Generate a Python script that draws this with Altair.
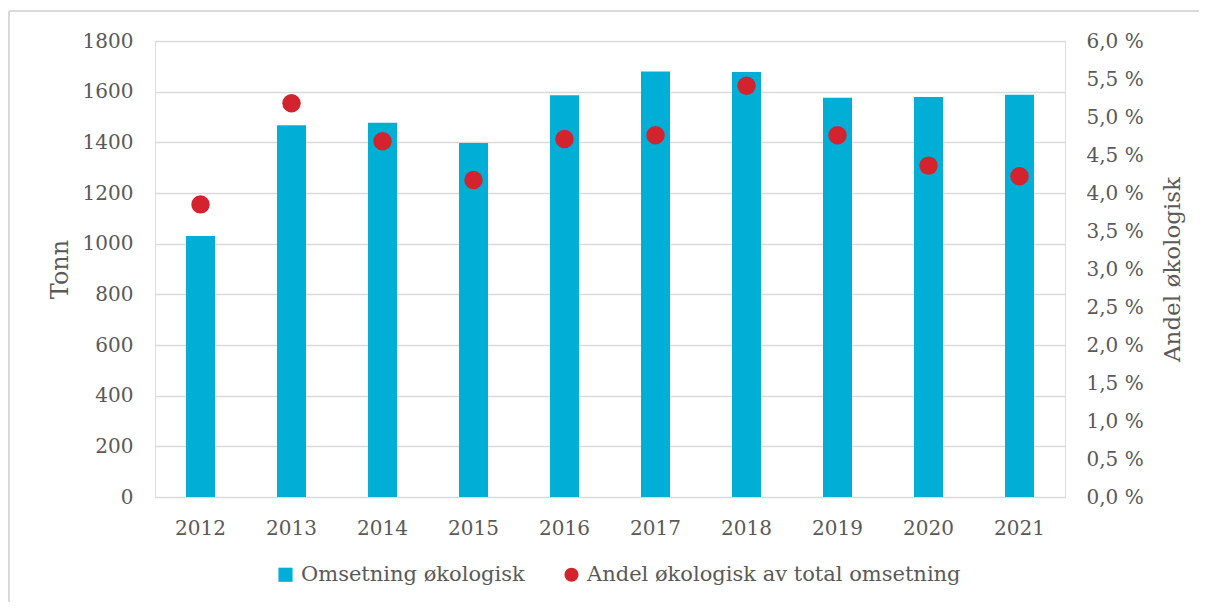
import altair as alt
import pandas as pd

years = ["2012", "2013", "2014", "2015", "2016", "2017", "2018", "2019", "2020", "2021"]
omsetning = [1030, 1467, 1477, 1397, 1586, 1680, 1678, 1576, 1579, 1588]
andel = [3.85, 5.18, 4.68, 4.17, 4.71, 4.76, 5.41, 4.76, 4.36, 4.22]
series_names = ["Omsetning økologisk", "Andel økologisk av total omsetning"]
left_ticks = [0, 200, 400, 600, 800, 1000, 1200, 1400, 1600, 1800]
right_ticks = [0, 0.5, 1, 1.5, 2, 2.5, 3, 3.5, 4, 4.5, 5, 5.5, 6]

df = pd.DataFrame({"year": years, "omsetning": omsetning, "andel": andel})
df["series"] = series_names[1]

FONT = "DejaVu Serif"
TXT = "#595959"
BLUE = "#00AED6"
RED = "#D2232E"
W, H = 910, 456

x = alt.X("year:N", title=None, scale=alt.Scale(paddingInner=0.69, paddingOuter=0.345),
          axis=alt.Axis(labelAngle=0, labelFontSize=20, labelColor=TXT, labelFont=FONT,
                        ticks=False, domain=False, labelPadding=21, grid=False))

bars = alt.Chart(df).mark_bar(size=29, color=BLUE).encode(
    x=x,
    y=alt.Y("omsetning:Q", title="Tonn",
            scale=alt.Scale(domain=[0, 1800], nice=False),
            axis=alt.Axis(values=left_ticks, format="d", labelFontSize=20, labelColor=TXT,
                          labelFont=FONT, titleFont=FONT, titleFontSize=24, titleColor=TXT,
                          titleFontWeight="normal", ticks=False, domain=False,
                          labelPadding=22, titlePadding=10, grid=True,
                          gridColor="#D9D9D9", gridWidth=1.3)),
)

legend = alt.Legend(title=None, orient="none", legendX=120, legendY=523,
                    direction="horizontal", labelFont=FONT, labelFontSize=21,
                    labelColor=TXT, symbolSize=200, symbolStrokeWidth=0,
                    columnPadding=36, labelOffset=5, padding=0, labelLimit=500)

points = alt.Chart(df).mark_point(filled=True, size=340, opacity=1).encode(
    x=x,
    y=alt.Y("andel:Q", title="Andel økologisk",
            scale=alt.Scale(domain=[0, 6], nice=False),
            axis=alt.Axis(orient="right", values=right_ticks,
                          labelExpr="replace(format(datum.value, '.1f'), '.', ',') + ' %'",
                          labelFontSize=20, labelColor=TXT, labelFont=FONT,
                          titleFont=FONT, titleFontSize=23, titleColor=TXT,
                          titleFontWeight="normal", titleAngle=270, titleBaseline="top",
                          ticks=False, domain=False,
                          labelPadding=21, titlePadding=18, grid=False)),
    color=alt.Color("series:N", scale=alt.Scale(domain=series_names, range=[BLUE, RED]),
                    legend=legend),
    shape=alt.Shape("series:N", scale=alt.Scale(domain=series_names, range=["square", "circle"]),
                    legend=legend),
)

frame_top = alt.Chart(df).mark_rule(color="#D9D9D9", strokeWidth=2).encode(
    x=alt.value(-146), x2=alt.value(W + 200), y=alt.value(-30))
frame_left = alt.Chart(df).mark_rule(color="#D9D9D9", strokeWidth=2).encode(
    x=alt.value(-146), y=alt.value(-30), y2=alt.value(H + 200))

chart = alt.layer(frame_top, frame_left, bars, points).resolve_scale(
    y="independent"
).properties(
    width=W, height=H,
    autosize=alt.AutoSizeParams(type="none"),
    padding={"left": 147, "top": 33, "right": 1191 - 147 - W, "bottom": 594 - 33 - H},
).configure_view(stroke=None).configure(background="white")

chart.save("out.html", embed_options={"renderer": "svg", "actions": False})
